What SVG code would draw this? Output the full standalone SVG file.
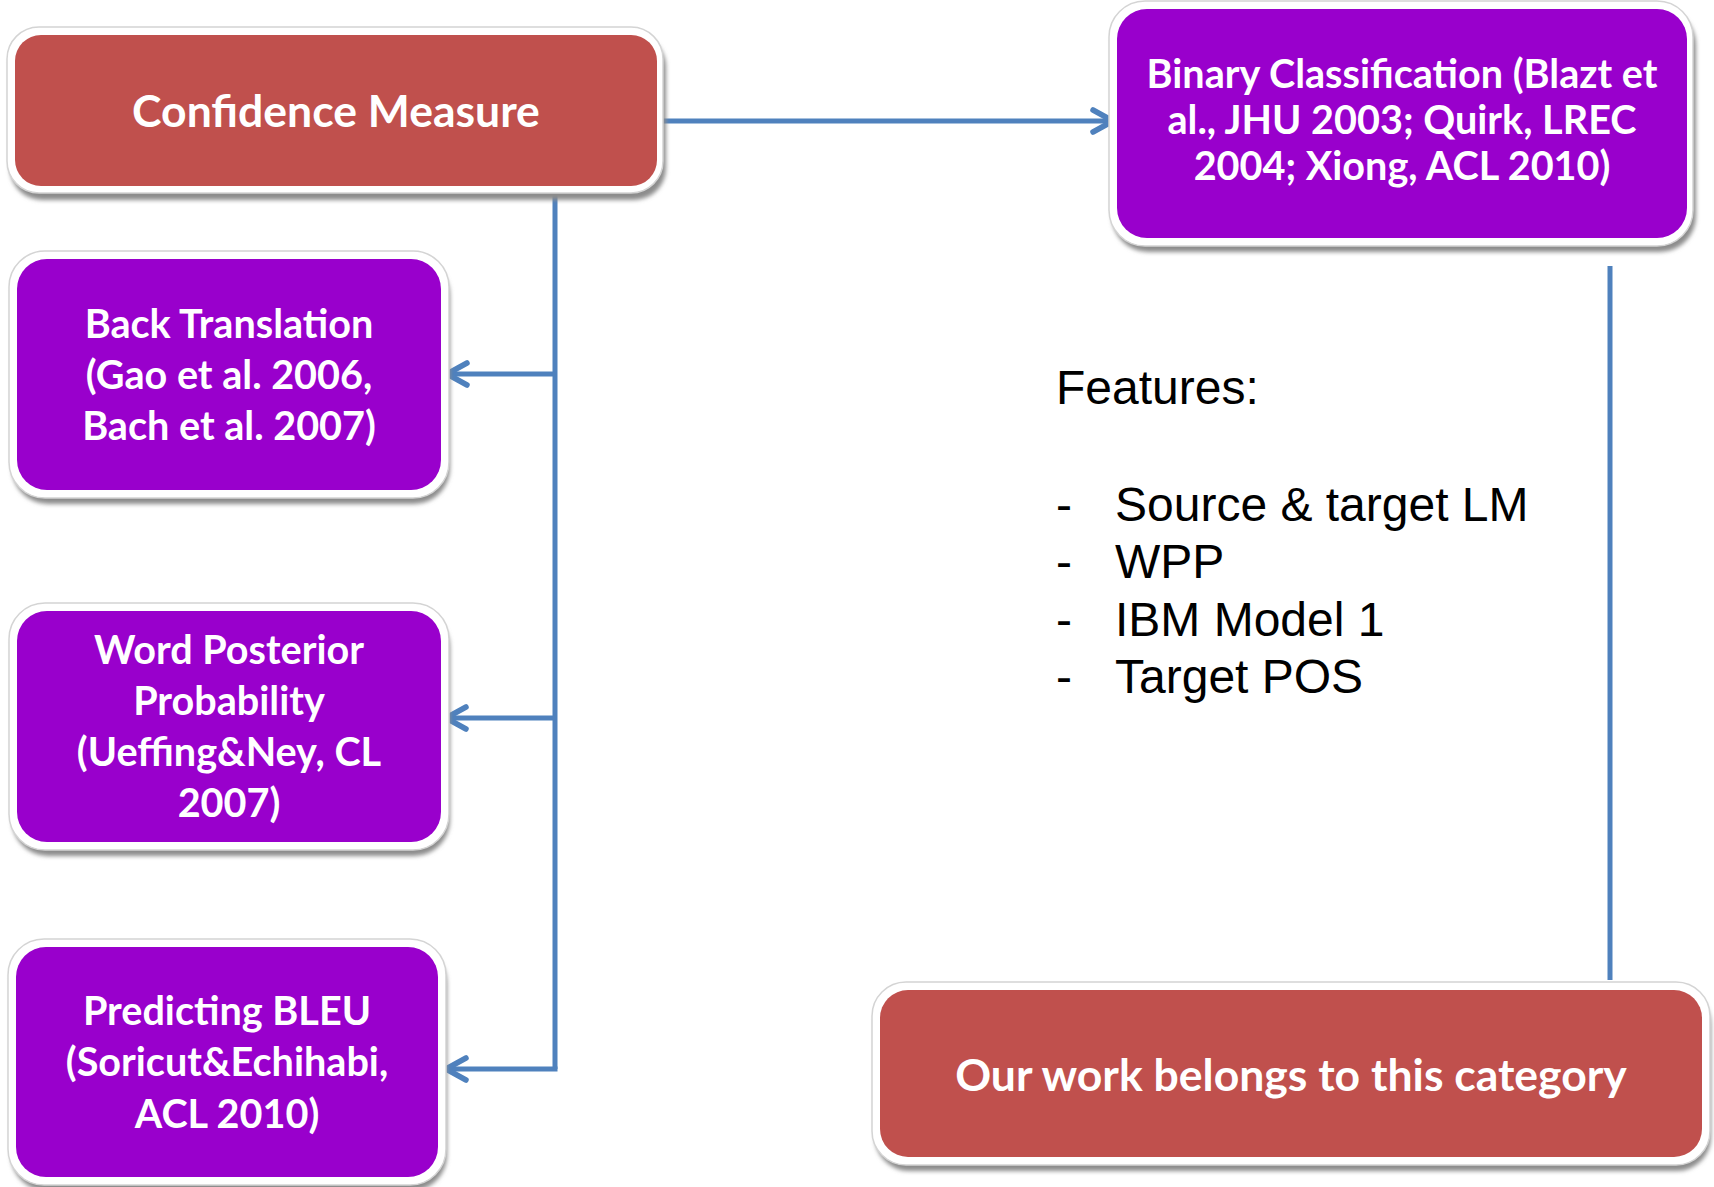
<svg xmlns="http://www.w3.org/2000/svg" width="1714" height="1187" viewBox="0 0 1714 1187">
  <style>
    .shadow { fill: #8c8c8c; filter: url(#soft); }
    .frame { fill: #ffffff; stroke: #d4d4d4; stroke-width: 1.5; }
    .red { fill: #C0504D; }
    .purple { fill: #9900CC; }
    .label { font-family: Lato, "Liberation Sans", sans-serif; font-weight: bold; fill: #ffffff; text-anchor: middle; }
    .small { font-size: 39.6px; }
    .big { font-size: 44.5px; }
    .conn { fill: none; stroke: #4F81BD; stroke-width: 5; }
    .feat { font-family: "Liberation Sans", Arial, sans-serif; font-size: 48px; fill: #000000; }
  </style>
  <defs>
    <filter id="soft" x="-10%" y="-10%" width="120%" height="130%">
      <feGaussianBlur stdDeviation="2"/>
    </filter>
    <marker id="chev" viewBox="0 0 30 30" refX="25" refY="15" markerWidth="30" markerHeight="30" markerUnits="userSpaceOnUse" orient="auto">
      <path d="M5,4 L25,15 L5,26" fill="none" stroke="#4F81BD" stroke-width="5.5" stroke-linecap="round" stroke-linejoin="round"/>
    </marker>
  </defs>

  <rect width="1714" height="1187" fill="#ffffff"/>

  <!-- connectors -->
  <g id="connectors">
    <line class="conn" x1="663" y1="121" x2="1113" y2="121" marker-end="url(#chev)"/>
    <polyline class="conn" points="555,195 555,1069"/>
    <line class="conn" x1="555" y1="374" x2="447" y2="374" marker-end="url(#chev)"/>
    <line class="conn" x1="555" y1="718" x2="446" y2="718" marker-end="url(#chev)"/>
    <line class="conn" x1="557.5" y1="1069" x2="446" y2="1069" marker-end="url(#chev)"/>
    <line class="conn" x1="1610" y1="266" x2="1610" y2="980"/>
  </g>

  <!-- Confidence Measure -->
  <g id="confidence-measure">
    <rect class="shadow" x="10" y="35" width="656" height="165" rx="32"/>
    <rect class="frame" x="7" y="27" width="656" height="166" rx="32"/>
    <rect class="red" x="15" y="35" width="642" height="151" rx="26"/>
    <text class="label big" x="336" y="127">Confidence Measure</text>
  </g>

  <!-- Binary Classification -->
  <g id="binary-classification">
    <rect class="shadow" x="1112" y="9" width="584" height="243" rx="36"/>
    <rect class="frame" x="1109" y="1" width="584" height="245" rx="36"/>
    <rect class="purple" x="1117" y="9" width="570" height="229" rx="30"/>
    <text class="label small" x="1402" y="88">Binary Classification (Blazt et</text>
    <text class="label small" x="1402" y="134">al., JHU 2003; Quirk, LREC</text>
    <text class="label small" x="1402" y="180">2004; Xiong, ACL 2010)</text>
  </g>

  <!-- Back Translation -->
  <g id="back-translation">
    <rect class="shadow" x="12" y="259" width="438" height="245" rx="36"/>
    <rect class="frame" x="9" y="251" width="440" height="247" rx="36"/>
    <rect class="purple" x="17" y="259" width="424" height="231" rx="30"/>
    <text class="label small" x="229" y="338">Back Translation</text>
    <text class="label small" x="229" y="389">(Gao et al. 2006,</text>
    <text class="label small" x="229" y="440">Bach et al. 2007)</text>
  </g>

  <!-- Word Posterior Probability -->
  <g id="word-posterior-probability">
    <rect class="shadow" x="12" y="611" width="438" height="245" rx="36"/>
    <rect class="frame" x="9" y="603" width="440" height="247" rx="36"/>
    <rect class="purple" x="17" y="611" width="424" height="231" rx="30"/>
    <text class="label small" x="229" y="664">Word Posterior</text>
    <text class="label small" x="229" y="715">Probability</text>
    <text class="label small" x="229" y="766">(Ueffing&amp;Ney, CL</text>
    <text class="label small" x="229" y="817">2007)</text>
  </g>

  <!-- Predicting BLEU -->
  <g id="predicting-bleu">
    <rect class="shadow" x="11" y="947" width="436" height="244" rx="36"/>
    <rect class="frame" x="8" y="939" width="438" height="246" rx="36"/>
    <rect class="purple" x="16" y="947" width="422" height="230" rx="30"/>
    <text class="label small" x="227" y="1025">Predicting BLEU</text>
    <text class="label small" x="227" y="1076">(Soricut&amp;Echihabi,</text>
    <text class="label small" x="227" y="1128">ACL 2010)</text>
  </g>

  <!-- Our work -->
  <g id="our-work">
    <rect class="shadow" x="875" y="990" width="836" height="181" rx="34"/>
    <rect class="frame" x="872" y="982" width="838" height="183" rx="34"/>
    <rect class="red" x="880" y="990" width="822" height="167" rx="28"/>
    <text class="label big" x="1291" y="1091">Our work belongs to this category</text>
  </g>

  <!-- feature list -->
  <g id="features">
    <text class="feat" x="1056" y="404">Features:</text>
    <text class="feat" x="1056" y="521">-</text>
    <text class="feat" x="1115" y="521">Source &amp; target LM</text>
    <text class="feat" x="1056" y="578">-</text>
    <text class="feat" x="1115" y="578">WPP</text>
    <text class="feat" x="1056" y="636">-</text>
    <text class="feat" x="1115" y="636">IBM Model 1</text>
    <text class="feat" x="1056" y="693">-</text>
    <text class="feat" x="1115" y="693">Target POS</text>
  </g>
</svg>
